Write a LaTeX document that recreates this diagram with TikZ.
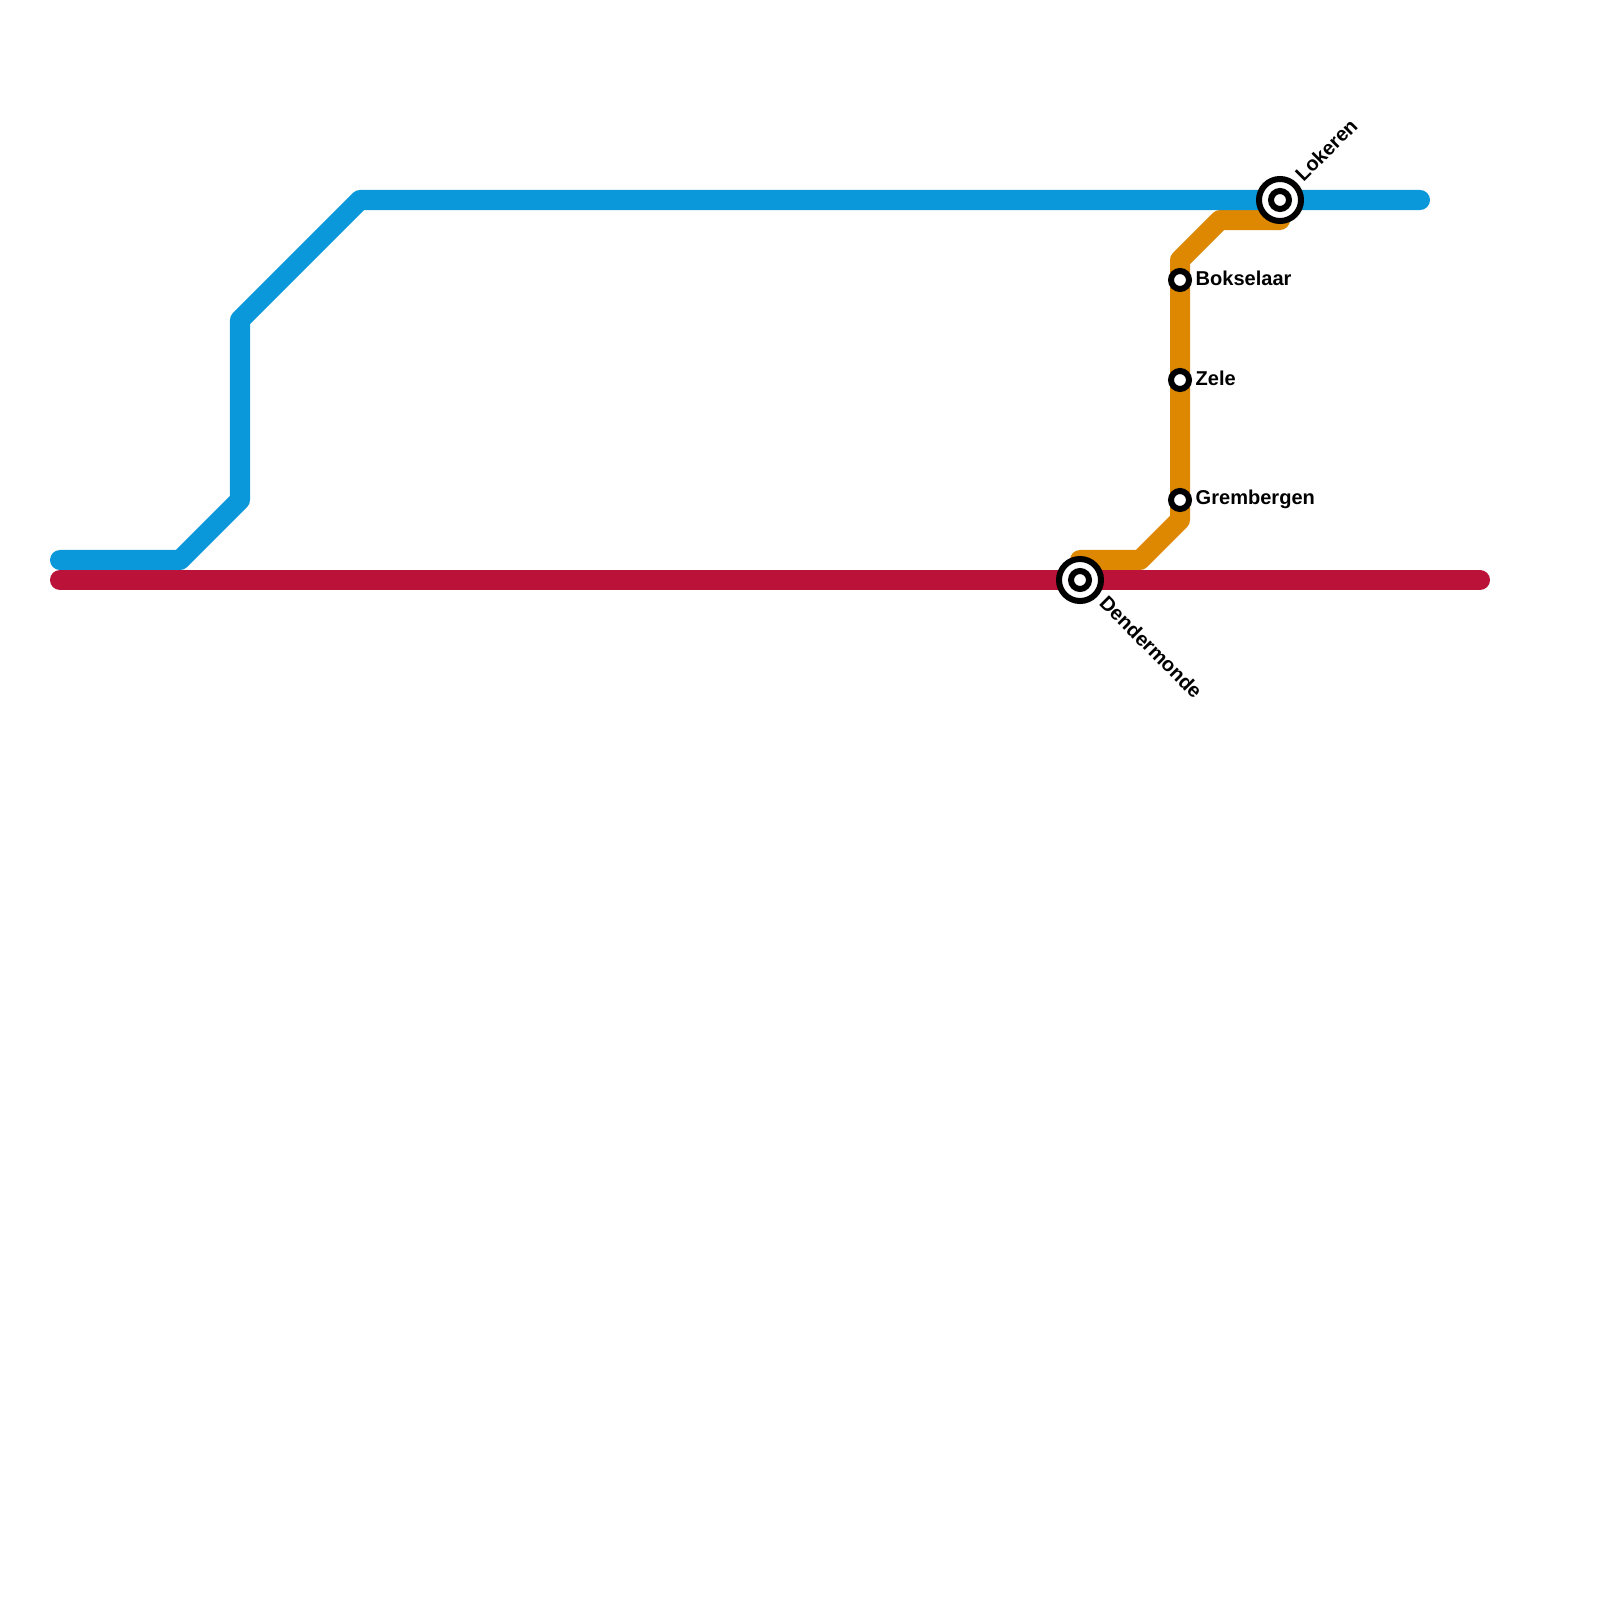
\documentclass[tikz,border=0pt]{standalone}
\usepackage{fontspec}
\setmainfont{Liberation Sans}
\usepackage{xcolor}
\usepackage{tikz}
\usetikzlibrary{
  positioning
}
\definecolor{lineBlue}{HTML}{0A98DA}
\definecolor{lineRed}{HTML}{BA1238}
\definecolor{lineOrange}{HTML}{DE8700}
\tikzset{
  metroline/.style={line width=0.2cm, line cap=round, line join=round},
  stationdot/.style={
    circle, draw=black, fill=white, line width=0.06cm, inner sep=0pt, minimum size=0.18cm
  },
  hubring/.style={stationdot, minimum size=0.42cm},
  stationtag/.style={font=\fontsize{5.7pt}{6pt}\selectfont\bfseries, inner sep=0pt, text=black}
}

\begin{document}
\begin{tikzpicture}[x=0.01cm, y=-0.01cm, node distance=0.03cm]
  \useasboundingbox (0,0) rectangle (1600,1600);
  % points of the lines
  \coordinate (blueA) at (60,560);
  \coordinate (blueB) at (180,560);
  \coordinate (blueC) at (240,500);
  \coordinate (blueD) at (240,320);
  \coordinate (blueE) at (360,200);
  \coordinate (blueF) at (1420,200);
  \coordinate (orangeA) at (1080,560);
  \coordinate (orangeB) at (1140,560);
  \coordinate (orangeC) at (1180,520);
  \coordinate (orangeD) at (1180,260);
  \coordinate (orangeE) at (1220,220);
  \coordinate (orangeF) at (1280,220);
  \coordinate (redA) at (60,580);
  \coordinate (redB) at (1480,580);
  % lines
  \draw[metroline, lineOrange] (orangeA) -- (orangeB) -- (orangeC) -- (orangeD) -- (orangeE) -- (orangeF);
  \draw[metroline, lineBlue] (blueA) -- (blueB) -- (blueC) -- (blueD) -- (blueE) -- (blueF);
  \draw[metroline, lineRed] (redA) -- (redB);
  % stations
  \node[hubring] (lokeren) at (1280,200) {};
  \node[stationdot] (lokerenInner) at (lokeren) {};
  \node[hubring] (dendermonde) at (1080,580) {};
  \node[stationdot] (dendermondeInner) at (dendermonde) {};
  \node[stationdot] (bokselaar) at (1180,280) {};
  \node[stationdot] (zele) at (1180,380) {};
  \node[stationdot] (grembergen) at (1180,500) {};
  % labels
  \node[stationtag, right=of bokselaar, yshift=0.015cm] (bokselaarTag) {Bokselaar};
  \node[stationtag, right=of zele, yshift=0.015cm] (zeleTag) {Zele};
  \node[stationtag, right=of grembergen, yshift=0.01cm] (grembergenTag) {Grembergen};
  \node[stationtag, rotate=45, anchor=west] (lokerenTag) at (1298,178) {Lokeren};
  \node[stationtag, rotate=-45, anchor=west] (dendermondeTag) at (1103,599) {Dendermonde};
\end{tikzpicture}
\end{document}
